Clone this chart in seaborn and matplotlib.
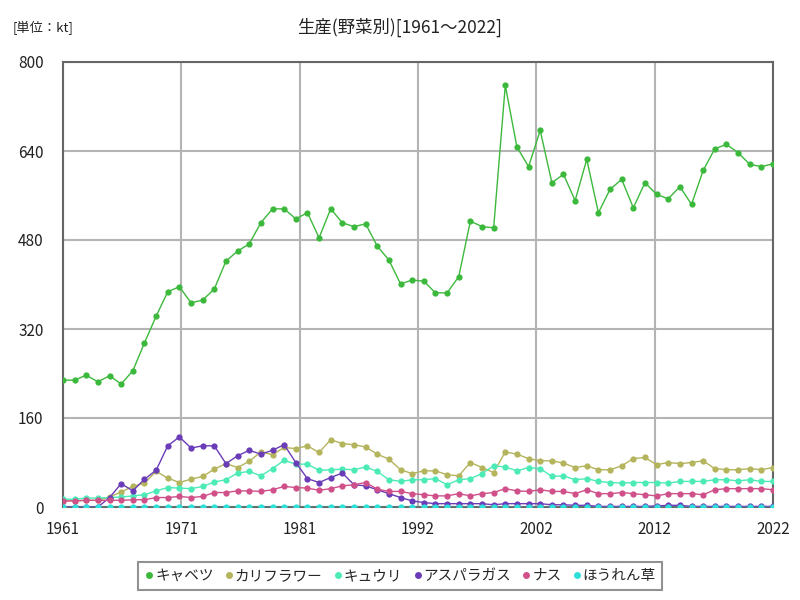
import numpy as np
import pandas as pd
import matplotlib
matplotlib.use("Agg")
import matplotlib.pyplot as plt
import seaborn as sns
from matplotlib.lines import Line2D

years = list(range(1961, 2023))

cabbage = [228, 228, 237, 225, 236, 221, 245, 295, 343, 387,
           396, 367, 372, 392, 442, 460, 473, 511, 536, 536,
           518, 529, 484, 536, 511, 504, 509, 469, 444, 401,
           408, 406, 385, 385, 414, 514, 504, 502, 758, 647,
           612, 677, 583, 598, 551, 625, 529, 571, 589, 538,
           583, 562, 554, 576, 544, 605, 644, 652, 637, 616,
           612, 617]

cauliflower = [11, 11, 12, 12, 18, 27, 37, 43, 64, 52,
               44, 50, 55, 68, 78, 71, 82, 99, 94, 107,
               105, 110, 98, 121, 114, 112, 108, 95, 86, 67,
               60, 65, 65, 58, 56, 80, 71, 62, 99, 95,
               87, 83, 83, 79, 71, 74, 67, 67, 74, 87,
               89, 76, 80, 78, 80, 83, 69, 67, 67, 69,
               67, 71]

cucumber = [14, 14, 16, 16, 17, 18, 20, 22, 29, 35,
            34, 33, 37, 45, 49, 61, 64, 56, 69, 84,
            77, 77, 66, 67, 68, 67, 72, 64, 49, 46,
            49, 49, 51, 40, 49, 51, 60, 74, 72, 65,
            71, 69, 55, 56, 49, 51, 46, 44, 43, 44,
            44, 44, 43, 46, 46, 46, 49, 49, 47, 49,
            46, 46]

asparagus = [0, 0, 0, 0, 17, 42, 29, 50, 66, 110,
             126, 106, 110, 110, 78, 92, 102, 95, 102, 112,
             80, 51, 44, 53, 61, 40, 38, 31, 24, 17,
             11, 8, 6, 6, 6, 6, 6, 4, 6, 6,
             6, 6, 4, 4, 3, 3, 1, 1, 1, 1,
             1, 2, 3, 3, 1, 1, 1, 1, 1, 1,
             1, 1]

eggplant = [11, 11, 12, 12, 12, 12, 13, 13, 17, 17,
            19, 17, 19, 26, 26, 29, 29, 28, 31, 37,
            35, 34, 30, 33, 38, 40, 44, 32, 28, 28,
            24, 22, 20, 20, 24, 20, 24, 26, 33, 29,
            28, 31, 28, 28, 24, 31, 24, 24, 26, 24,
            22, 20, 24, 24, 24, 22, 31, 33, 33, 33,
            33, 31]

spinach = [0.3] * 62

names = ["キャベツ", "カリフラワー", "キュウリ", "アスパラガス", "ナス", "ほうれん草"]
colors = ["#3cb93c", "#b4b45c", "#4ceab6", "#6b3cb8", "#d0508a", "#2ee0da"]
series = [cabbage, cauliflower, cucumber, asparagus, eggplant, spinach]

df = pd.concat([pd.DataFrame({"year": years, "value": v, "name": n})
                for n, v in zip(names, series)], ignore_index=True)

sns.set_theme(style="white")
plt.rcParams["font.family"] = ["Noto Sans CJK JP", "DejaVu Sans"]

fig = plt.figure(figsize=(8, 6), dpi=100)
ax = fig.add_axes([63/800, 1-507/600, 710/800, 445/600])

sns.lineplot(data=df, x="year", y="value", hue="name", hue_order=names,
             palette=dict(zip(names, colors)), marker="o", markersize=4.5,
             markeredgewidth=0, linewidth=1.0, ax=ax, legend=False, zorder=3)

ax.set_xlim(1961, 2022)
ax.set_ylim(0, 800)
xt = np.linspace(1961, 2022, 7)
ax.set_xticks(xt)
ax.set_xticklabels(["1961", "1971", "1981", "1992", "2002", "2012", "2022"], fontsize=11)
ax.set_yticks([0, 160, 320, 480, 640, 800])
ax.set_yticklabels(["0", "160", "320", "480", "640", "800"], fontsize=11)
ax.grid(True, color="#b4b4b4", linewidth=1.5, zorder=0)
ax.set_axisbelow(True)
for s in ax.spines.values():
    s.set_color("#666666")
    s.set_linewidth(1.5)
ax.tick_params(axis="x", length=0, pad=10, colors="#222222")
ax.tick_params(axis="y", length=0, pad=14, colors="#222222")
ax.set_xlabel("")
ax.set_ylabel("")

fig.text(0.5, 0.955, "生産(野菜別)[1961～2022]", ha="center", va="center", fontsize=12.5, color="#222222")
fig.text(0.016, 0.953, "[単位：kt]", ha="left", va="center", fontsize=9.5, color="#222222")

handles = [Line2D([], [], marker="o", linestyle="none", color=c, markersize=5, markeredgewidth=0) for c in colors]
leg = fig.legend(handles, names, loc="center", bbox_to_anchor=(0.5, 1 - 576/600),
                 ncol=6, frameon=True, fontsize=10.5, handletextpad=0.05, columnspacing=0.7,
                 borderpad=0.45, handlelength=0.7, fancybox=False, edgecolor="#777777")
leg.get_frame().set_linewidth(1.5)

fig.savefig("out.png", dpi=100)
